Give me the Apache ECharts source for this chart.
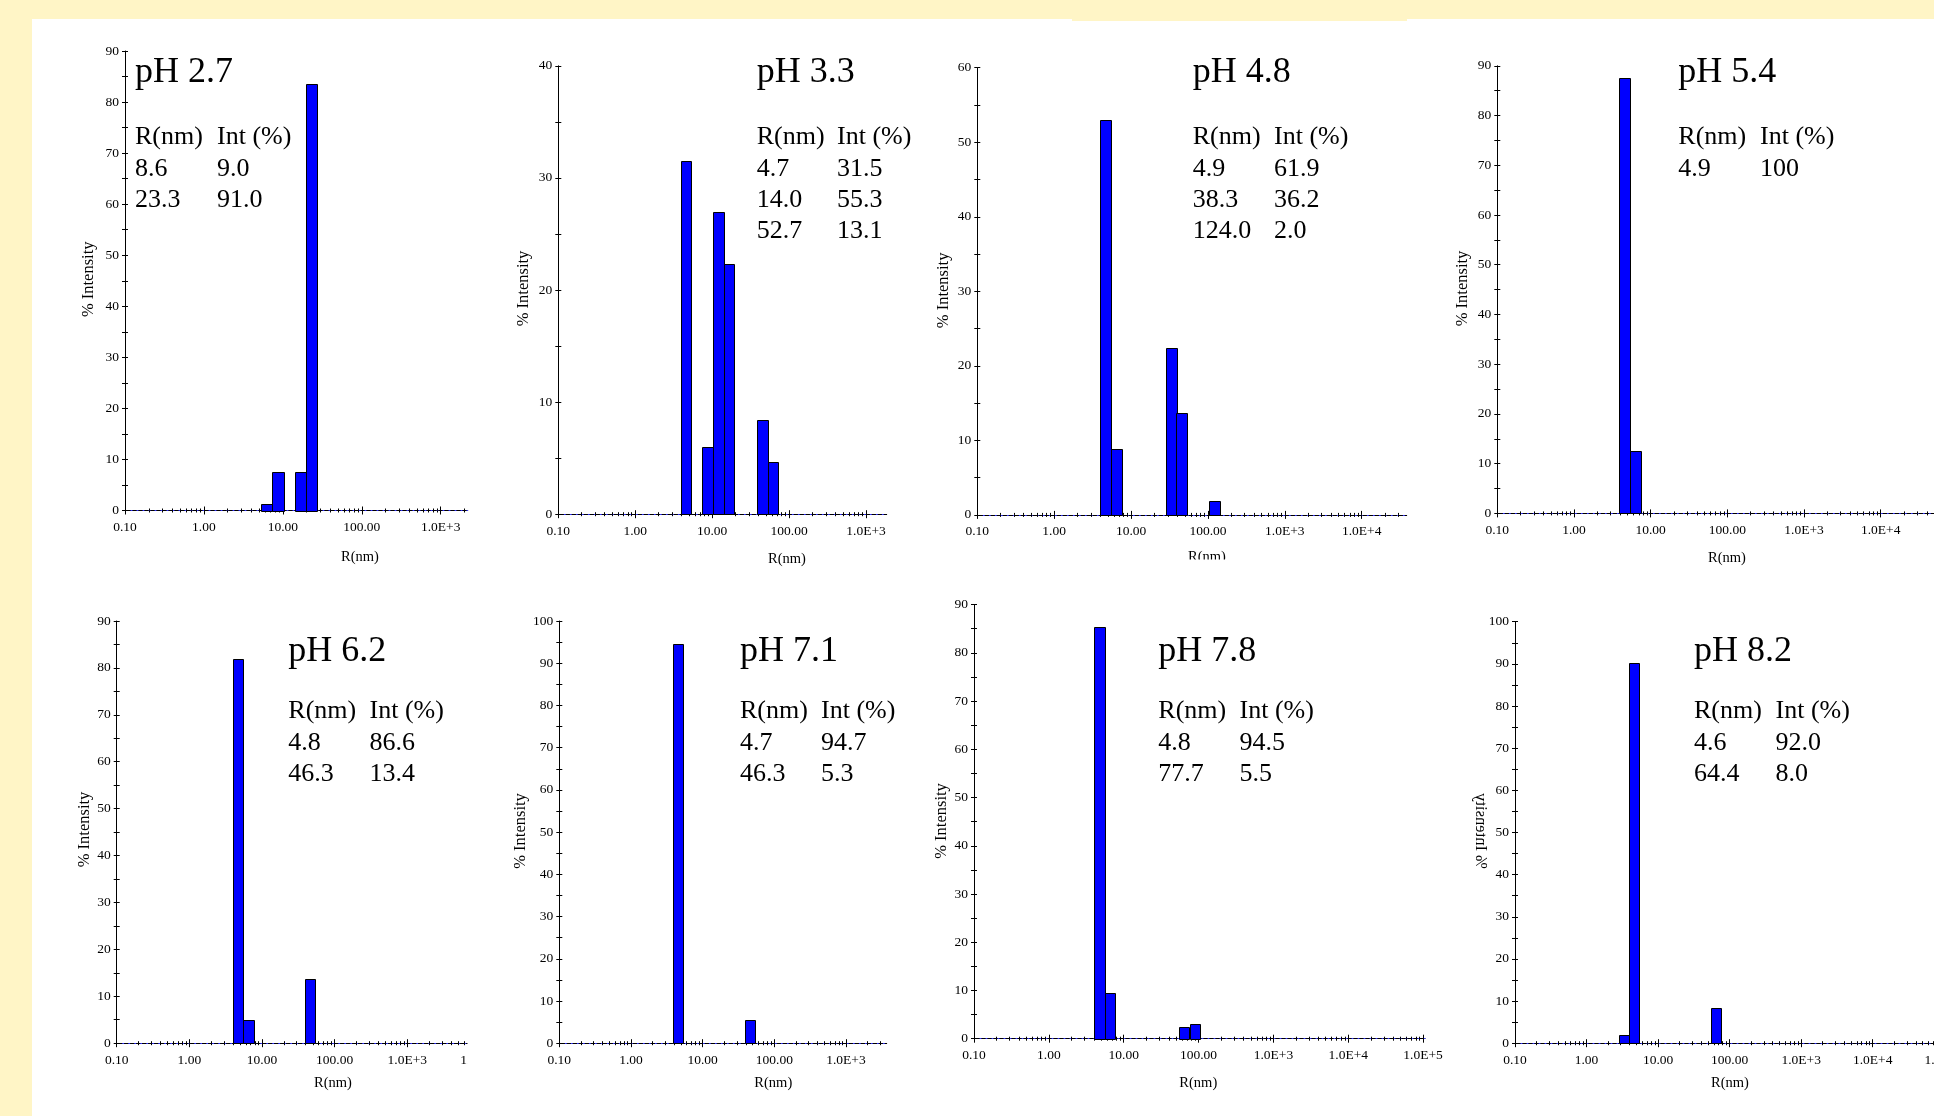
<!DOCTYPE html>
<html>
<head>
<meta charset="utf-8">
<script src="https://cdn.jsdelivr.net/npm/echarts@6/dist/echarts.min.js"></script>
<style>
html,body{margin:0;padding:0;background:#ffffff;}
#chart{width:1934px;height:1116px;}
</style>
</head>
<body>
<div id="chart"></div>
<script>
// ================= DATA =================
const panelTitles = ['pH 2.7', 'pH 3.3', 'pH 4.8', 'pH 5.4', 'pH 6.2', 'pH 7.1', 'pH 7.8', 'pH 8.2'];

// Histogram bins: bin-centre radius (nm) and % intensity
const radius_pH27 = [6.27, 8.68, 16.8, 23.2];
const intensity_pH27 = [1.3, 7.6, 7.6, 83.5];
const radius_pH33 = [4.57, 8.74, 12.1, 16.6, 44.7, 61.8];
const intensity_pH33 = [31.5, 6.0, 27.0, 22.3, 8.4, 4.7];
const radius_pH48 = [4.63, 6.41, 33.4, 45.6, 121.7];
const intensity_pH48 = [53.0, 8.8, 22.4, 13.7, 1.9];
const radius_pH54 = [4.58, 6.37];
const intensity_pH54 = [87.6, 12.6];
const radius_pH62 = [4.70, 6.52, 45.8];
const intensity_pH62 = [81.8, 5.0, 13.6];
const radius_pH71 = [4.57, 46.2];
const intensity_pH71 = [94.6, 5.5];
const radius_pH78 = [4.72, 6.56, 64.4, 89.5];
const intensity_pH78 = [85.4, 9.4, 2.5, 3.0];
const radius_pH82 = [3.34, 4.59, 63.8];
const intensity_pH82 = [2.0, 90.3, 8.4];

// Peak summary tables
const peakRadius_pH27 = ['8.6', '23.3'];
const peakInt_pH27 = ['9.0', '91.0'];
const peakRadius_pH33 = ['4.7', '14.0', '52.7'];
const peakInt_pH33 = ['31.5', '55.3', '13.1'];
const peakRadius_pH48 = ['4.9', '38.3', '124.0'];
const peakInt_pH48 = ['61.9', '36.2', '2.0'];
const peakRadius_pH54 = ['4.9'];
const peakInt_pH54 = ['100'];
const peakRadius_pH62 = ['4.8', '46.3'];
const peakInt_pH62 = ['86.6', '13.4'];
const peakRadius_pH71 = ['4.7', '46.3'];
const peakInt_pH71 = ['94.7', '5.3'];
const peakRadius_pH78 = ['4.8', '77.7'];
const peakInt_pH78 = ['94.5', '5.5'];
const peakRadius_pH82 = ['4.6', '64.4'];
const peakInt_pH82 = ['92.0', '8.0'];

// Axis ranges and tick labels
const intensityAxisMax = [90, 40, 60, 90, 90, 100, 90, 100];
const radiusAxisMin = 0.1;
const radiusAxisMax = [2198, 1858, 38460, 100000, 20000, 3698, 106000, 200000];
const radiusTickLabels = ['0.10', '1.00', '10.00', '100.00', '1.0E+3', '1.0E+4', '1.0E+5'];
const tableHeader = ['R(nm)', 'Int (%)'];
const xAxisTitle = 'R(nm)';
const yAxisTitle = '% Intensity';

// ================= LAYOUT / STYLE =================
const BIN_DECADES = 0.14;           // width of one histogram bin on the log axis
const SERIF = '"Liberation Serif", "Times New Roman", serif';
const BAR_FILL = '#0000ff';

const layout = [
  {grid: [125, 51, 342.7, 459.5],   titleX: 135,    col2X: 217,    row: 0, yName: [89, 279.3],    xName: [360, 557]},
  {grid: [558.3, 65.8, 328.4, 448.4], titleX: 756.7, col2X: 837,   row: 0, yName: [523.3, 288.5], xName: [787, 559]},
  {grid: [977.3, 67.7, 429.4, 447.2], titleX: 1192.7, col2X: 1274, row: 0, yName: [943.3, 290.4], xName: [1207, 557]},
  {grid: [1497.3, 65.8, 460.1, 447.6], titleX: 1678.3, col2X: 1760, row: 0, yName: [1462.7, 288.5], xName: [1727, 558.5]},
  {grid: [116.7, 621, 385.1, 422.2], titleX: 288.3, col2X: 369.5, row: 1, yName: [85, 829.5],    xName: [333, 1083]},
  {grid: [559.3, 621, 327.4, 422.2], titleX: 740,   col2X: 821,   row: 1, yName: [520.7, 831],   xName: [773.3, 1083]},
  {grid: [974, 604.6, 451, 434.1],   titleX: 1158.3, col2X: 1239.5, row: 1, yName: [941.7, 821], xName: [1198.3, 1083]},
  {grid: [1515, 621.7, 450.8, 421.5], titleX: 1694, col2X: 1775.5, row: 1, yName: [1480, 831],   xName: [1730, 1083], mirror: true}
];
const rowText = [
  {title: 72.8, header: 137.3, step: 31.4},
  {title: 651.5, header: 711.4, step: 31.5}
];

const radiusSeries = [radius_pH27, radius_pH33, radius_pH48, radius_pH54, radius_pH62, radius_pH71, radius_pH78, radius_pH82];
const intensitySeries = [intensity_pH27, intensity_pH33, intensity_pH48, intensity_pH54, intensity_pH62, intensity_pH71, intensity_pH78, intensity_pH82];
const peakRadii = [peakRadius_pH27, peakRadius_pH33, peakRadius_pH48, peakRadius_pH54, peakRadius_pH62, peakRadius_pH71, peakRadius_pH78, peakRadius_pH82];
const peakInts = [peakInt_pH27, peakInt_pH33, peakInt_pH48, peakInt_pH54, peakInt_pH62, peakInt_pH71, peakInt_pH78, peakInt_pH82];

// log-axis tick positions
const decadeTicks = [];
const minorTicks = [];
for (let e = -1; e <= 5; e++) {
  decadeTicks.push(Math.pow(10, e));
  for (let k = 2; k <= 9; k++) minorTicks.push(k * Math.pow(10, e));
}
function radiusLabel(v) {
  const i = Math.round(Math.log10(v)) + 1;
  return radiusTickLabels[i] !== undefined ? radiusTickLabels[i] : '';
}

const grids = [], xAxes = [], yAxes = [], series = [], graphics = [];

// background frame (yellow border of the original picture)
graphics.push({type: 'rect', shape: {x: 0, y: 0, width: 1934, height: 19}, style: {fill: '#fff5c6'}, z: 1});
graphics.push({type: 'rect', shape: {x: 1072, y: 0, width: 335, height: 21}, style: {fill: '#fff5c6'}, z: 1});
graphics.push({type: 'rect', shape: {x: 0, y: 0, width: 32, height: 1116}, style: {fill: '#fff5c6'}, z: 1});

function txt(x, y, s, size, extra) {
  return Object.assign({
    type: 'text', x: x, y: y, z: 50,
    style: {text: s, fontFamily: SERIF, fontSize: size, fill: '#000',
            align: 'left', textAlign: 'left', verticalAlign: 'middle', textVerticalAlign: 'middle'}
  }, extra || {});
}

layout.forEach(function (L, i) {
  grids.push({left: L.grid[0], top: L.grid[1], width: L.grid[2], height: L.grid[3],
              containLabel: false, outerBoundsMode: 'none'});
  const xBase = {
    gridIndex: i, type: 'log', logBase: 10, min: radiusAxisMin, max: radiusAxisMax[i],
    position: 'bottom', splitLine: {show: false}, minorTick: {show: false}
  };
  const xMain = xAxes.length;
  // main axis: line, labels, decade ticks outward
  xAxes.push(Object.assign({}, xBase, {
    axisLine: {show: true, onZero: false, lineStyle: {color: '#000', width: 1}},
    axisTick: {show: true, inside: false, length: 4, customValues: decadeTicks, lineStyle: {color: '#000', width: 1}},
    axisLabel: {show: true, customValues: decadeTicks, formatter: radiusLabel, margin: 10,
                fontFamily: SERIF, fontSize: 13.5, color: '#000'}
  }));
  // decade ticks inward + faint blue dotted baseline
  xAxes.push(Object.assign({}, xBase, {
    axisLine: {show: true, onZero: false, lineStyle: {color: '#3030ff', width: 1, type: [1, 5]}},
    axisTick: {show: true, inside: true, length: 4, customValues: decadeTicks, lineStyle: {color: '#000', width: 1}},
    axisLabel: {show: false}
  }));
  // minor ticks outward
  xAxes.push(Object.assign({}, xBase, {
    axisLine: {show: false},
    axisTick: {show: true, inside: false, length: 2, customValues: minorTicks, lineStyle: {color: '#000', width: 1}},
    axisLabel: {show: false}
  }));
  // minor ticks inward
  xAxes.push(Object.assign({}, xBase, {
    axisLine: {show: false},
    axisTick: {show: true, inside: true, length: 2, customValues: minorTicks, lineStyle: {color: '#000', width: 1}},
    axisLabel: {show: false}
  }));

  const yMax = intensityAxisMax[i];
  const yTicks = [];
  for (let v = 0; v <= yMax; v += 5) yTicks.push(v);
  const yMain = yAxes.length;
  const yBase = {gridIndex: i, type: 'value', min: 0, max: yMax, interval: 10, position: 'left', splitLine: {show: false}};
  yAxes.push(Object.assign({}, yBase, {
    axisLine: {show: true, onZero: false, lineStyle: {color: '#000', width: 1}},
    axisTick: {show: true, inside: false, length: 3, customValues: yTicks, lineStyle: {color: '#000', width: 1}},
    axisLabel: {show: true, margin: 6, fontFamily: SERIF, fontSize: 13.5, color: '#000'}
  }));
  yAxes.push(Object.assign({}, yBase, {
    axisLine: {show: false},
    axisTick: {show: true, inside: true, length: 3, customValues: yTicks, lineStyle: {color: '#000', width: 1}},
    axisLabel: {show: false}
  }));

  const radii = radiusSeries[i], ints = intensitySeries[i];
  series.push({
    type: 'custom', name: panelTitles[i], xAxisIndex: xMain, yAxisIndex: yMain,
    encode: {x: 0, y: 1}, silent: true, clip: false,
    data: radii.map(function (r, j) { return [r, ints[j]]; }),
    renderItem: function (params, api) {
      const r = api.value(0), v = api.value(1);
      const half = Math.pow(10, BIN_DECADES / 2);
      const p0 = api.coord([r / half, 0]);
      const p1 = api.coord([r * half, v]);
      const x0 = Math.round(p0[0]) + 0.5, x1 = Math.round(p1[0]) + 0.5;
      const yT = Math.round(p1[1]) + 0.5, yB = Math.round(p0[1]) + 0.5;
      return {type: 'rect', shape: {x: x0, y: yT, width: x1 - x0, height: yB - yT},
              style: {fill: BAR_FILL, stroke: '#000', lineWidth: 1}};
    }
  });

  // title and peak table
  const R = rowText[L.row];
  graphics.push(txt(L.titleX, R.title, panelTitles[i], 36));
  graphics.push(txt(L.titleX, R.header, tableHeader[0], 26));
  graphics.push(txt(L.col2X, R.header, tableHeader[1], 26));
  peakRadii[i].forEach(function (s, j) {
    graphics.push(txt(L.titleX, R.header + R.step * (j + 1), s, 26));
    graphics.push(txt(L.col2X, R.header + R.step * (j + 1), peakInts[i][j], 26));
  });

  // axis names
  const yn = txt(L.yName[0], L.yName[1], yAxisTitle, 16.5, {rotation: Math.PI / 2});
  yn.style.align = yn.style.textAlign = 'center';
  if (L.mirror) yn.scaleY = -1;
  graphics.push(yn);
  const xn = txt(L.xName[0], L.xName[1], xAxisTitle, 14.5);
  xn.style.align = xn.style.textAlign = 'center';
  graphics.push(xn);
});

// edges of the cropped original picture
graphics.push({type: 'rect', shape: {x: 467.5, y: 1028, width: 63, height: 50}, style: {fill: '#ffffff'}, z: 100});
graphics.push({type: 'rect', shape: {x: 1165, y: 559.5, width: 90, height: 22}, style: {fill: '#ffffff'}, z: 100});

const chart = echarts.init(document.getElementById('chart'), null, {renderer: 'canvas'});
chart.setOption({
  animation: false,
  backgroundColor: '#ffffff',
  grid: grids,
  xAxis: xAxes,
  yAxis: yAxes,
  series: series,
  graphic: {elements: graphics}
});
</script>
</body>
</html>
